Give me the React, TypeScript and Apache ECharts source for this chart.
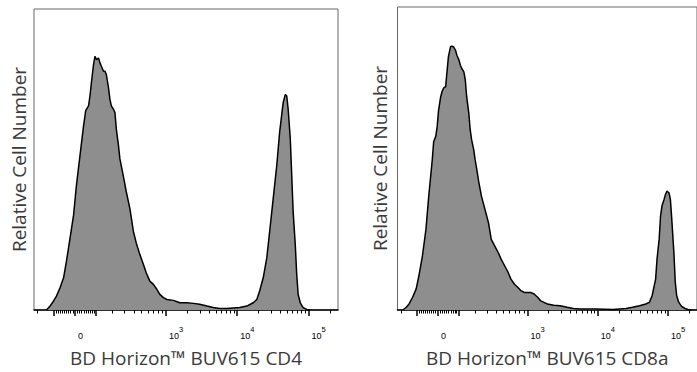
import React, { useEffect, useRef } from "react";
import * as echarts from "echarts";

// Histogram positions on the biexponential display scale (decades from zero) and relative counts
const cd4Pos = [-0.40, -0.35, -0.30, -0.26, -0.21, -0.16, -0.12, -0.07, -0.02, 0.02, 0.07, 0.12, 0.15, 0.19, 0.21, 0.23, 0.26, 0.28, 0.30, 0.33, 0.35, 0.37, 0.40, 0.42, 0.44, 0.47, 0.49, 0.51, 0.54, 0.56, 0.58, 0.61, 0.63, 0.68, 0.72, 0.77, 0.82, 0.86, 0.91, 0.96, 1.00, 1.05, 1.10, 1.15, 1.19, 1.24, 1.29, 1.38, 1.47, 1.57, 1.66, 1.75, 1.85, 1.94, 2.03, 2.13, 2.22, 2.31, 2.41, 2.50, 2.55, 2.59, 2.64, 2.69, 2.73, 2.78, 2.83, 2.87, 2.92, 2.95, 2.97, 2.99, 3.02, 3.04, 3.06, 3.09, 3.11, 3.13, 3.16, 3.20, 3.25, 3.30];
const cd4Count = [0, 1.3, 3.0, 4.6, 7.4, 10.7, 16.2, 23.8, 31.5, 41.4, 51.3, 61.2, 66.2, 67.8, 71.1, 75.5, 81.5, 84.3, 83.2, 83.7, 82.1, 81.0, 79.3, 79.3, 78.2, 73.8, 70.0, 67.8, 66.7, 65.6, 60.1, 54.6, 50.2, 44.2, 39.2, 33.7, 26.0, 22.2, 18.4, 15.1, 12.3, 9.6, 8.5, 6.8, 5.2, 4.1, 3.5, 3.2, 2.4, 2.4, 2.2, 1.9, 1.3, 0.8, 0.5, 0.5, 0.7, 0.8, 1.3, 2.4, 3.5, 6.3, 10.7, 17.3, 26.0, 37.0, 48.0, 59.0, 68.9, 71.6, 71.1, 66.7, 56.8, 44.7, 32.6, 21.6, 11.8, 5.2, 2.4, 0.8, 0.2, 0];

const cd8Pos = [-0.50, -0.45, -0.41, -0.36, -0.31, -0.27, -0.22, -0.17, -0.13, -0.08, -0.06, -0.03, -0.01, 0.01, 0.04, 0.06, 0.08, 0.11, 0.13, 0.15, 0.18, 0.20, 0.22, 0.25, 0.27, 0.30, 0.32, 0.34, 0.37, 0.39, 0.41, 0.44, 0.46, 0.48, 0.51, 0.53, 0.55, 0.58, 0.62, 0.67, 0.72, 0.76, 0.81, 0.86, 0.90, 0.95, 1.00, 1.04, 1.09, 1.14, 1.18, 1.23, 1.28, 1.32, 1.37, 1.42, 1.46, 1.51, 1.56, 1.65, 1.74, 1.84, 1.93, 2.02, 2.26, 2.49, 2.68, 2.77, 2.87, 2.96, 3.01, 3.05, 3.10, 3.12, 3.15, 3.17, 3.19, 3.22, 3.24, 3.26, 3.29, 3.31, 3.33, 3.36, 3.38, 3.40, 3.43, 3.47, 3.52, 3.57, 3.62];
const cd8Count = [0, 0.9, 2.0, 4.2, 6.9, 11.3, 17.9, 26.6, 37.6, 49.6, 55.6, 57.3, 60.6, 66.0, 70.4, 72.1, 73.2, 73.7, 78.6, 83.6, 86.9, 87.1, 86.9, 85.8, 84.1, 82.5, 80.8, 79.7, 78.6, 75.9, 70.4, 65.0, 59.5, 56.2, 52.9, 49.6, 46.9, 42.5, 37.6, 33.2, 28.8, 23.3, 21.1, 18.9, 16.8, 14.6, 12.4, 10.2, 8.5, 7.4, 6.4, 5.8, 5.8, 5.8, 5.3, 4.2, 3.1, 2.5, 2.0, 1.6, 1.4, 0.9, 0.5, 0.3, 0.3, 0.2, 0.5, 0.9, 1.4, 2.0, 2.5, 4.7, 10.2, 16.8, 23.3, 31.0, 34.3, 36.5, 38.1, 39.2, 38.7, 36.5, 29.9, 18.9, 9.1, 4.7, 2.5, 1.2, 0.5, 0.1, 0];

// Axis ticks (raw fluorescence values)
const majorTickRaw = [-100, 0, 100, 1000, 10000, 100000];
const minorTickRaw = [
  -200, -90, -80, -70, -60, -50, -40, -30, -20, -10,
  10, 20, 30, 40, 50, 60, 70, 80, 90,
  200, 300, 400, 500, 600, 700, 800, 900,
  2000, 3000, 4000, 5000, 6000, 7000, 8000, 9000,
  20000, 30000, 40000, 50000, 60000, 70000, 80000, 90000,
  200000,
];
const labelRaw = [0, 1000, 10000, 100000];
const labelText = ["{b|0}", "{b|10}{s|3}", "{b|10}{s|4}", "{b|10}{s|5}"];

const xTitles = ["BD Horizon™ BUV615 CD4", "BD Horizon™ BUV615 CD8a"];
const yTitle = "Relative Cell Number";

// biexponential display transform
const LIN_SCALE = 0.5063;
const LIN_WIDTH = 162;
const T1000 = LIN_SCALE * Math.asinh(1000 / LIN_WIDTH);
function biex(v: number): number {
  const a = Math.abs(v);
  if (a <= 1000) return LIN_SCALE * Math.asinh(v / LIN_WIDTH);
  return Math.sign(v) * (T1000 + Math.log10(a / 1000));
}

const X_MIN = -0.575;
const X_MAX = 3.689;

export default function App() {
  const ref = useRef<HTMLDivElement>(null);
  useEffect(() => {
    if (!ref.current) return;
    const chart = echarts.init(ref.current, undefined, { renderer: "svg" });
    const majorT = majorTickRaw.map(biex);
    const minorT = minorTickRaw.map(biex);
    const labelT = labelRaw.map(biex);
    const fmt = (val: number) => {
      const i = labelT.findIndex((t) => Math.abs(t - val) < 1e-6);
      return i >= 0 ? labelText[i] : "";
    };
    const tickFont = "'Liberation Sans', Arial, sans-serif";
    const titleStyle = {
      fontSize: 19,
      fontFamily: "'Open Sans', sans-serif",
      color: "#3a3a3a",
    };
    const grids = [
      { left: 34, top: 9, width: 304, height: 303 },
      { left: 397.5, top: 7, width: 304, height: 304 },
    ];
    const xAxes: any[] = [];
    const yAxes: any[] = [];
    grids.forEach((g, gi) => {
      xAxes.push({
        type: "value",
        gridIndex: gi,
        min: X_MIN,
        max: X_MAX,
        position: "bottom",
        axisLine: { show: true, lineStyle: { color: "#000", width: 1.5 } },
        axisTick: { show: true, customValues: majorT, length: 6, lineStyle: { color: "#000", width: 1.5 } },
        axisLabel: {
          show: true,
          customValues: labelT,
          formatter: fmt,
          margin: 15,
          align: "left",
          padding: [0, 0, 0, 3],
          rich: {
            b: { fontSize: 9, fontFamily: tickFont, color: "#000", padding: [6, 0, 0, 0] },
            s: { fontSize: 7.5, fontFamily: tickFont, color: "#000", padding: [0, 0, 7, 0], verticalAlign: "top" },
          },
        },
        splitLine: { show: false },
        name: xTitles[gi],
        nameLocation: "middle",
        nameGap: 38,
        nameTextStyle: titleStyle,
      });
      xAxes.push({
        type: "value",
        gridIndex: gi,
        min: X_MIN,
        max: X_MAX,
        position: "bottom",
        offset: 0,
        axisLine: { show: false },
        axisTick: { show: true, customValues: minorT, length: 3.5, lineStyle: { color: "#000", width: 1 } },
        axisLabel: { show: false },
        splitLine: { show: false },
      });
      yAxes.push({
        type: "value",
        gridIndex: gi,
        min: 0,
        max: 100,
        axisLine: { show: false },
        axisTick: { show: false },
        axisLabel: { show: false },
        splitLine: { show: false },
        name: yTitle,
        nameLocation: "middle",
        nameGap: gi === 0 ? 6 : 8,
        nameRotate: 90,
        nameTextStyle: titleStyle,
      });
    });
    const mkSeries = (pos: number[], cnt: number[], gi: number) => ({
      type: "line",
      xAxisIndex: gi * 2,
      yAxisIndex: gi,
      data: pos.map((x, i) => [x, cnt[i]]),
      symbol: "none",
      showSymbol: false,
      silent: true,
      lineStyle: { color: "#000", width: 1.5 },
      areaStyle: { color: "#8e8e8e", opacity: 1 },
      z: 3,
    });
    chart.setOption({
      animation: false,
      grid: grids.map((g) => ({ ...g, show: true, borderColor: "#666", borderWidth: 1, backgroundColor: "transparent" })),
      xAxis: xAxes,
      yAxis: yAxes,
      series: [mkSeries(cd4Pos, cd4Count, 0), mkSeries(cd8Pos, cd8Count, 1)],
    });
    return () => chart.dispose();
  }, []);
  return (
    <div
      ref={ref}
      style={{ position: "absolute", left: 0, top: 0, width: 697, height: 372, background: "#fff" }}
    />
  );
}
